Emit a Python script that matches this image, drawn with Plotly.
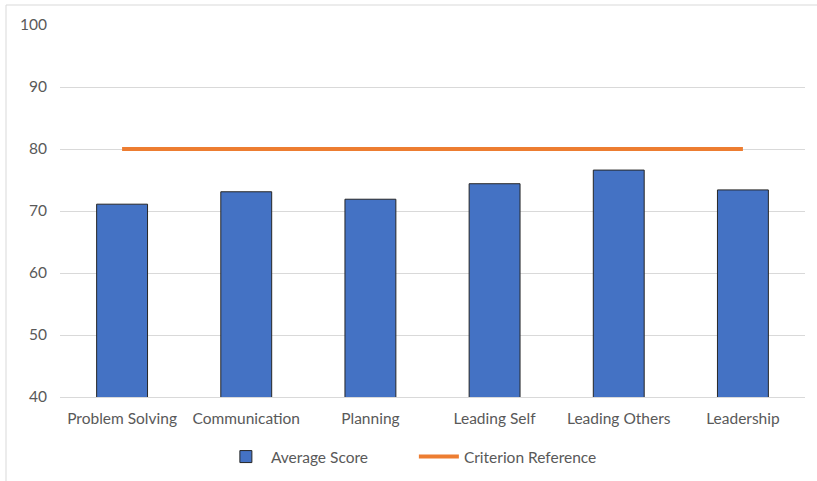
import plotly.graph_objects as go

categories = ["Problem Solving", "Communication", "Planning", "Leading Self", "Leading Others", "Leadership"]
average_score = [71.1, 73.1, 71.9, 74.4, 76.6, 73.4]
criterion = [80, 80, 80, 80, 80, 80]
y_ticks = [40, 50, 60, 70, 80, 90, 100]

fig = go.Figure()
fig.add_trace(go.Bar(
    x=categories, y=average_score, name="Average Score",
    marker=dict(color="#4472C4", line=dict(color="#262626", width=1)),
    width=0.41,
))
fig.add_trace(go.Scatter(
    x=categories, y=criterion, name="Criterion Reference", mode="lines",
    line=dict(color="#ED7D31", width=4),
))

fig.update_layout(
    width=817, height=481,
    margin=dict(l=60, r=12, t=25, b=84, autoexpand=False),
    paper_bgcolor="white", plot_bgcolor="white",
    font=dict(family="Lato, Carlito, sans-serif", size=15.5, color="#595959"),
    showlegend=True,
    legend=dict(orientation="h", x=0.475, xanchor="center",
                yref="container", y=1 - 457 / 481, yanchor="middle",
                font=dict(size=15.5, color="#595959"), itemwidth=40,
                entrywidth=138),
    bargap=0.59,
    shapes=[dict(type="rect", xref="paper", yref="paper",
                 x0=(6 - 60) / 745, x1=(830 - 60) / 745,
                 y0=(397 - 500) / 372, y1=(397 - 5) / 372,
                 line=dict(color="#D9D9D9", width=1), fillcolor="rgba(0,0,0,0)", layer="below")],
)
fig.update_yaxes(range=[40, 100], tickvals=y_ticks, showgrid=True, gridcolor="#D9D9D9",
                 zeroline=False, showline=False, ticks="", ticklabelstandoff=12, automargin=False)
fig.update_xaxes(showline=True, linecolor="#D9D9D9", linewidth=1, ticks="", showgrid=False,
                 ticklabelstandoff=7, automargin=False)

fig.write_html("out.html")
